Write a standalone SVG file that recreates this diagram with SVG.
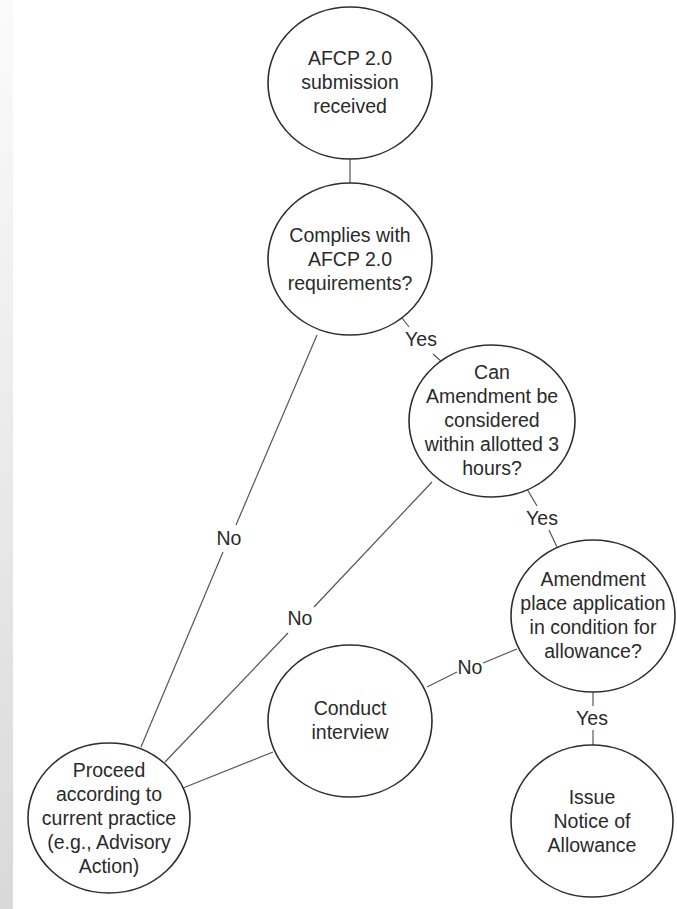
<svg xmlns="http://www.w3.org/2000/svg" width="677" height="909" viewBox="0 0 677 909">
<defs>
<linearGradient id="strip" x1="0" y1="0" x2="0" y2="1">
<stop offset="0" stop-color="#fbfbfb"/>
<stop offset="1" stop-color="#d9d9d9"/>
</linearGradient>
<style>
.node ellipse { fill: #ffffff; stroke: #2e2e2e; stroke-width: 1.6; }
.node text, .lbl { font-family: "Liberation Sans", Arial, sans-serif; font-size: 19.5px; fill: #2a2a2a; text-anchor: middle; }
#connectors line { stroke: #555555; stroke-width: 1.2; fill: none; }
</style>
</defs>
<rect x="0" y="0" width="677" height="909" fill="#ffffff"/>
<rect x="0" y="0" width="13" height="909" fill="url(#strip)"/>

<g id="connectors">
<line x1="350" y1="159" x2="350" y2="183"/>
<line x1="402" y1="318" x2="409" y2="327"/>
<line x1="433" y1="354" x2="442" y2="362"/>
<line x1="527" y1="489" x2="537" y2="506"/>
<line x1="549" y1="530" x2="557" y2="547"/>
<line x1="517" y1="649" x2="483" y2="663"/>
<line x1="457" y1="672" x2="427" y2="687"/>
<line x1="593" y1="692" x2="593" y2="706"/>
<line x1="593" y1="730" x2="593" y2="745"/>
<line x1="317" y1="335" x2="236" y2="525"/>
<line x1="223" y1="552" x2="141" y2="747"/>
<line x1="432" y1="482" x2="314" y2="607"/>
<line x1="288" y1="633" x2="165" y2="762"/>
<line x1="273" y1="752" x2="183" y2="788"/>
<text class="lbl" x="421" y="346">Yes</text>
<text class="lbl" x="542" y="525">Yes</text>
<text class="lbl" x="470" y="674">No</text>
<text class="lbl" x="592" y="725">Yes</text>
<text class="lbl" x="229" y="545">No</text>
<text class="lbl" x="300" y="625">No</text>
</g>

<g id="n1" class="node">
<ellipse cx="350" cy="83" rx="82" ry="76"/>
<text x="350" y="65">AFCP 2.0</text>
<text x="350" y="89">submission</text>
<text x="350" y="113">received</text>
</g>

<g id="n2" class="node">
<ellipse cx="350" cy="259" rx="82" ry="76"/>
<text x="350" y="242">Complies with</text>
<text x="350" y="266">AFCP 2.0</text>
<text x="350" y="290">requirements?</text>
</g>

<g id="n3" class="node">
<ellipse cx="492" cy="421" rx="83" ry="76"/>
<text x="492" y="379">Can</text>
<text x="492" y="403">Amendment be</text>
<text x="492" y="427">considered</text>
<text x="492" y="451">within allotted 3</text>
<text x="492" y="475">hours?</text>
</g>

<g id="n4" class="node">
<ellipse cx="593" cy="616" rx="82" ry="76"/>
<text x="593" y="586">Amendment</text>
<text x="593" y="610">place application</text>
<text x="593" y="634">in condition for</text>
<text x="593" y="658">allowance?</text>
</g>

<g id="n5" class="node">
<ellipse cx="350" cy="721" rx="82" ry="76"/>
<text x="350" y="715">Conduct</text>
<text x="350" y="739">interview</text>
</g>

<g id="n6" class="node">
<ellipse cx="109" cy="818" rx="81" ry="75"/>
<text x="109" y="777">Proceed</text>
<text x="109" y="801">according to</text>
<text x="109" y="825">current practice</text>
<text x="109" y="849">(e.g., Advisory</text>
<text x="109" y="873">Action)</text>
</g>

<g id="n7" class="node">
<ellipse cx="592" cy="821" rx="81" ry="76"/>
<text x="592" y="804">Issue</text>
<text x="592" y="828">Notice of</text>
<text x="592" y="852">Allowance</text>
</g>
</svg>
